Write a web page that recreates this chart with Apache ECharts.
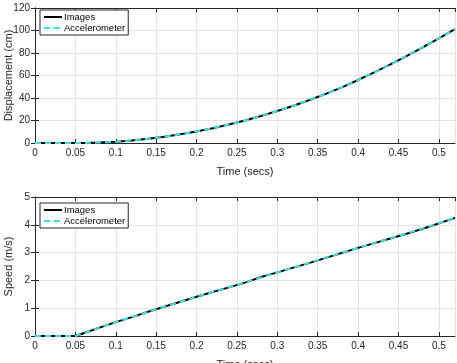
<!DOCTYPE html>
<html>
<head>
<meta charset="utf-8">
<script src="https://cdn.jsdelivr.net/npm/echarts@6/dist/echarts.min.js"></script>
<style>
  html, body { margin: 0; padding: 0; background: #fff; }
  #chart { width: 457px; height: 363px; }
</style>
</head>
<body>
<div id="chart"></div>
<script>
// time samples (secs)
const timeImg = [0, 0.02, 0.04, 0.05, 0.06, 0.08, 0.10, 0.12, 0.14, 0.16, 0.18, 0.20, 0.22, 0.24, 0.26, 0.28, 0.30, 0.32, 0.34, 0.36, 0.38, 0.40, 0.42, 0.44, 0.46, 0.48, 0.50, 0.52];
const timeAcc = [0, 0.02, 0.04, 0.05, 0.06, 0.08, 0.10, 0.12, 0.14, 0.16, 0.18, 0.20, 0.22, 0.24, 0.26, 0.28, 0.30, 0.32, 0.34, 0.36, 0.38, 0.40, 0.42, 0.44, 0.46, 0.48, 0.50, 0.52];

// displacement (cm)
const dispImages = [0, 0, 0, 0, 0.05, 0.4, 1.1, 2.2, 3.7, 5.5, 7.7, 10.3, 13.2, 16.4, 20.0, 24.0, 28.4, 33.1, 38.2, 43.7, 49.5, 56.0, 62.7, 69.8, 77.3, 85.0, 93.0, 101.3];
const dispAccel  = [0, 0, 0, 0, 0.05, 0.4, 1.1, 2.2, 3.7, 5.5, 7.7, 10.3, 13.2, 16.4, 20.0, 24.0, 28.4, 33.1, 38.2, 43.7, 49.5, 56.0, 62.7, 69.8, 77.3, 85.0, 93.0, 101.3];

// speed (m/s)
const speedImages = [0, 0, 0, 0, 0.1, 0.3, 0.5, 0.68, 0.87, 1.05, 1.23, 1.41, 1.58, 1.75, 1.92, 2.12, 2.29, 2.46, 2.63, 2.81, 2.99, 3.17, 3.34, 3.51, 3.68, 3.86, 4.05, 4.25];
const speedAccel  = [0, 0, 0, 0, 0.1, 0.3, 0.5, 0.68, 0.87, 1.05, 1.23, 1.41, 1.58, 1.75, 1.93, 2.11, 2.29, 2.46, 2.64, 2.82, 3.0, 3.17, 3.34, 3.51, 3.69, 3.87, 4.05, 4.26];

const xTicks = { min: 0, max: 0.52, interval: 0.05 };
const dispTicks = { min: 0, max: 120, interval: 20 };
const speedTicks = { min: 0, max: 5, interval: 1 };

const pair = (xs, ys) => xs.map((x, i) => [x, ys[i]]);

const font = 'Liberation Sans, Arial, sans-serif';
const axisColor = '#262626';

function xAxisOf(grid) {
  return [{
    type: 'value', gridIndex: grid, min: xTicks.min, max: xTicks.max, interval: xTicks.interval,
    name: 'Time (secs)', nameLocation: 'middle', nameGap: 23, nameMoveOverlap: false,
    nameTextStyle: { color: axisColor, fontSize: 11, fontFamily: font },
    axisLine: { show: true, onZero: false, lineStyle: { color: axisColor, width: 1 } },
    axisTick: { show: true, inside: true, length: 4, lineStyle: { color: axisColor } },
    axisLabel: { color: axisColor, fontSize: 10, fontFamily: font, margin: 5, showMaxLabel: false },
    splitLine: { show: true, lineStyle: { color: '#e3e3e3', width: 1 } }
  }, {
    type: 'value', gridIndex: grid, position: 'top', min: xTicks.min, max: xTicks.max, interval: xTicks.interval,
    axisLine: { show: true, onZero: false, lineStyle: { color: axisColor, width: 1 } },
    axisTick: { show: true, inside: true, length: 4, lineStyle: { color: axisColor } },
    axisLabel: { show: false },
    splitLine: { show: false }
  }];
}

function yAxisOf(grid, ticks, label) {
  return [{
    type: 'value', gridIndex: grid, min: ticks.min, max: ticks.max, interval: ticks.interval,
    name: label, nameLocation: 'middle', nameGap: 21, nameMoveOverlap: false,
    nameTextStyle: { color: axisColor, fontSize: 11, fontFamily: font },
    axisLine: { show: true, lineStyle: { color: axisColor, width: 1 } },
    axisTick: { show: true, inside: true, length: 4, lineStyle: { color: axisColor } },
    axisLabel: { color: axisColor, fontSize: 10, fontFamily: font, margin: 5 },
    splitLine: { show: true, lineStyle: { color: '#e3e3e3', width: 1 } }
  }, {
    type: 'value', gridIndex: grid, position: 'right', min: ticks.min, max: ticks.max, interval: ticks.interval,
    axisLine: { show: true, lineStyle: { color: axisColor, width: 1 } },
    axisTick: { show: true, inside: true, length: 4, lineStyle: { color: axisColor } },
    axisLabel: { show: false },
    splitLine: { show: false }
  }];
}

function legendAt(top) {
  return {
    left: 40, top: top, orient: 'vertical', itemGap: 1, itemWidth: 18, itemHeight: 2,
    padding: [2, 3, 2, 3], borderColor: axisColor, borderWidth: 1, borderRadius: 0,
    backgroundColor: '#fff',
    textStyle: { color: '#000', fontSize: 9.5, fontFamily: font, padding: [0, 0, 0, -3] },
    data: ['Images', 'Accelerometer']
  };
}

const imgIcon = 'path://M0,0h18v2h-18z';
const accIcon = 'path://M0,0h5v2h-5z M8,0h5v2h-5z M16,0h2v2h-2z';
const imgStyle = { color: '#000', width: 2 };
const accStyle = { color: '#3fe0e0', width: 2, type: [6, 4] };

const myChart = echarts.init(document.getElementById('chart'));
myChart.setOption({
  animation: false,
  grid: [
    { left: 35, top: 8, width: 420, height: 135, outerBoundsMode: 'none', containLabel: false },
    { left: 35, top: 197, width: 420, height: 139, outerBoundsMode: 'none', containLabel: false }
  ],
  legend: [legendAt(10), legendAt(203)],
  xAxis: [...xAxisOf(0), ...xAxisOf(1)],
  yAxis: [...yAxisOf(0, dispTicks, 'Displacement (cm)'), ...yAxisOf(1, speedTicks, 'Speed (m/s)')],
  series: [
    { name: 'Images', type: 'line', xAxisIndex: 0, yAxisIndex: 0, showSymbol: false, symbol: 'none', legendIcon: imgIcon,
      lineStyle: imgStyle, itemStyle: { color: '#000' }, data: pair(timeImg, dispImages) },
    { name: 'Accelerometer', type: 'line', xAxisIndex: 0, yAxisIndex: 0, showSymbol: false, symbol: 'none', legendIcon: accIcon,
      lineStyle: accStyle, itemStyle: { color: '#3fe0e0' }, data: pair(timeAcc, dispAccel) },
    { name: 'Images', type: 'line', xAxisIndex: 2, yAxisIndex: 2, showSymbol: false, symbol: 'none', legendIcon: imgIcon,
      lineStyle: imgStyle, itemStyle: { color: '#000' }, data: pair(timeImg, speedImages) },
    { name: 'Accelerometer', type: 'line', xAxisIndex: 2, yAxisIndex: 2, showSymbol: false, symbol: 'none', legendIcon: accIcon,
      lineStyle: accStyle, itemStyle: { color: '#3fe0e0' }, data: pair(timeAcc, speedAccel) }
  ]
});
</script>
</body>
</html>
